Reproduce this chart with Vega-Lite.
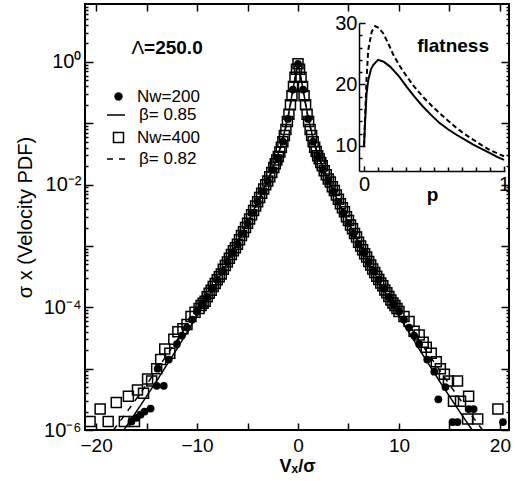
{
"$schema":"https://vega.github.io/schema/vega-lite/v6.json",
"width":424,"height":426,
"autosize":{"type":"none"},
"padding":{"left":85,"top":4,"right":9,"bottom":51},
"background":"white",
"config":{
 "view":{"stroke":"black","strokeWidth":2},
 "font":"Liberation Sans",
 "axis":{"grid":false,"labelFont":"Liberation Sans","titleFont":"Liberation Sans","labelColor":"black","titleColor":"black","tickColor":"black","domainColor":"black","tickWidth":1.5,"domainWidth":1.5,"labelFontSize":20,"labelFlush":false,"labelOverlap":false,"labelFontWeight":"normal"},
 "legend":{"labelFont":"Liberation Sans","labelFontSize":17,"labelColor":"black","padding":0}
},
"datasets":{
 "pts":[
  {"set":"Nw=400","v":-20.6,"pdf":1.38e-6},{"set":"Nw=400","v":-19.6,"pdf":2.19e-6},{"set":"Nw=400","v":-18.8,"pdf":1.38e-6},{"set":"Nw=400","v":-18.0,"pdf":2.82e-6},{"set":"Nw=400","v":-17.2,"pdf":1.38e-6},{"set":"Nw=400","v":-16.8,"pdf":3.55e-6},{"set":"Nw=400","v":-16.2,"pdf":1.38e-6},{"set":"Nw=400","v":-15.9,"pdf":4.47e-6},{"set":"Nw=400","v":-15.3,"pdf":3.98e-6},{"set":"Nw=400","v":-14.9,"pdf":6.76e-6},{"set":"Nw=400","v":-14.5,"pdf":6.31e-6},{"set":"Nw=400","v":-14.0,"pdf":1.0e-5},{"set":"Nw=400","v":-13.6,"pdf":1.41e-5},{"set":"Nw=400","v":-13.2,"pdf":2.09e-5},{"set":"Nw=400","v":-12.7,"pdf":1.78e-5},{"set":"Nw=400","v":-12.3,"pdf":3.02e-5},{"set":"Nw=400","v":-11.9,"pdf":3.98e-5},{"set":"Nw=400","v":-11.4,"pdf":4.47e-5},{"set":"Nw=400","v":-11.0,"pdf":5.25e-5},{"set":"Nw=400","v":-10.6,"pdf":7.08e-5},{"set":"Nw=400","v":-10.2,"pdf":8.3e-5},
  {"set":"Nw=400","v":-9.8,"pdf":9.55e-5},{"set":"Nw=400","v":-9.6,"pdf":1.07e-4},{"set":"Nw=400","v":-9.4,"pdf":1.17e-4},{"set":"Nw=400","v":-9.2,"pdf":1.25e-4},{"set":"Nw=400","v":-9.0,"pdf":1.48e-4},{"set":"Nw=400","v":-8.8,"pdf":1.7e-4},{"set":"Nw=400","v":-8.6,"pdf":1.9e-4},{"set":"Nw=400","v":-8.4,"pdf":2.19e-4},{"set":"Nw=400","v":-8.2,"pdf":2.45e-4},{"set":"Nw=400","v":-8.0,"pdf":2.82e-4},{"set":"Nw=400","v":-7.8,"pdf":3.16e-4},{"set":"Nw=400","v":-7.6,"pdf":3.5e-4},{"set":"Nw=400","v":-7.4,"pdf":4.17e-4},{"set":"Nw=400","v":-7.2,"pdf":4.79e-4},{"set":"Nw=400","v":-7.0,"pdf":5.5e-4},{"set":"Nw=400","v":-6.8,"pdf":6.31e-4},{"set":"Nw=400","v":-6.6,"pdf":7.24e-4},{"set":"Nw=400","v":-6.4,"pdf":8.32e-4},{"set":"Nw=400","v":-6.2,"pdf":9.33e-4},{"set":"Nw=400","v":-6.0,"pdf":1.07e-3},{"set":"Nw=400","v":-5.8,"pdf":1.26e-3},{"set":"Nw=400","v":-5.6,"pdf":1.48e-3},{"set":"Nw=400","v":-5.4,"pdf":1.7e-3},{"set":"Nw=400","v":-5.2,"pdf":2.0e-3},{"set":"Nw=400","v":-5.0,"pdf":2.34e-3},{"set":"Nw=400","v":-4.8,"pdf":2.75e-3},{"set":"Nw=400","v":-4.6,"pdf":3.24e-3},{"set":"Nw=400","v":-4.4,"pdf":3.8e-3},{"set":"Nw=400","v":-4.2,"pdf":4.47e-3},{"set":"Nw=400","v":-4.0,"pdf":5.25e-3},{"set":"Nw=400","v":-3.8,"pdf":6.17e-3},{"set":"Nw=400","v":-3.6,"pdf":7.24e-3},{"set":"Nw=400","v":-3.4,"pdf":8.51e-3},{"set":"Nw=400","v":-3.2,"pdf":0.01},{"set":"Nw=400","v":-3.0,"pdf":0.0115},{"set":"Nw=400","v":-2.8,"pdf":0.0135},{"set":"Nw=400","v":-2.6,"pdf":0.0158},{"set":"Nw=400","v":-2.4,"pdf":0.0191},{"set":"Nw=400","v":-2.25,"pdf":0.0219},{"set":"Nw=400","v":-2.1,"pdf":0.0251},{"set":"Nw=400","v":-1.95,"pdf":0.0288},{"set":"Nw=400","v":-1.8,"pdf":0.0339},{"set":"Nw=400","v":-1.65,"pdf":0.0407},{"set":"Nw=400","v":-1.5,"pdf":0.0501},{"set":"Nw=400","v":-1.35,"pdf":0.0631},{"set":"Nw=400","v":-1.2,"pdf":0.0794},{"set":"Nw=400","v":-1.05,"pdf":0.107},{"set":"Nw=400","v":-0.9,"pdf":0.141},{"set":"Nw=400","v":-0.75,"pdf":0.2},{"set":"Nw=400","v":-0.6,"pdf":0.282},{"set":"Nw=400","v":-0.45,"pdf":0.398},{"set":"Nw=400","v":-0.3,"pdf":0.562},{"set":"Nw=400","v":-0.15,"pdf":0.759},{"set":"Nw=400","v":0,"pdf":0.933},
  {"set":"Nw=400","v":0.15,"pdf":0.759},{"set":"Nw=400","v":0.3,"pdf":0.562},{"set":"Nw=400","v":0.45,"pdf":0.398},{"set":"Nw=400","v":0.6,"pdf":0.282},{"set":"Nw=400","v":0.75,"pdf":0.2},{"set":"Nw=400","v":0.9,"pdf":0.141},{"set":"Nw=400","v":1.05,"pdf":0.107},{"set":"Nw=400","v":1.2,"pdf":0.0794},{"set":"Nw=400","v":1.35,"pdf":0.0631},{"set":"Nw=400","v":1.5,"pdf":0.0501},{"set":"Nw=400","v":1.65,"pdf":0.0407},{"set":"Nw=400","v":1.8,"pdf":0.0347},{"set":"Nw=400","v":1.95,"pdf":0.0295},{"set":"Nw=400","v":2.1,"pdf":0.0263},{"set":"Nw=400","v":2.25,"pdf":0.0229},{"set":"Nw=400","v":2.4,"pdf":0.0204},{"set":"Nw=400","v":2.6,"pdf":0.0168},{"set":"Nw=400","v":2.8,"pdf":0.0145},{"set":"Nw=400","v":3.0,"pdf":0.0123},{"set":"Nw=400","v":3.2,"pdf":0.011},{"set":"Nw=400","v":3.4,"pdf":0.0092},{"set":"Nw=400","v":3.6,"pdf":0.008},{"set":"Nw=400","v":3.8,"pdf":0.0068},{"set":"Nw=400","v":4.0,"pdf":0.0058},{"set":"Nw=400","v":4.2,"pdf":0.0049},{"set":"Nw=400","v":4.4,"pdf":0.0042},{"set":"Nw=400","v":4.6,"pdf":0.0036},{"set":"Nw=400","v":4.8,"pdf":0.003},{"set":"Nw=400","v":5.0,"pdf":0.0026},{"set":"Nw=400","v":5.2,"pdf":0.0022},{"set":"Nw=400","v":5.4,"pdf":0.0019},{"set":"Nw=400","v":5.6,"pdf":0.0016},{"set":"Nw=400","v":5.8,"pdf":0.0014},{"set":"Nw=400","v":6.0,"pdf":0.00115},{"set":"Nw=400","v":6.2,"pdf":0.001},{"set":"Nw=400","v":6.4,"pdf":8.7e-4},{"set":"Nw=400","v":6.6,"pdf":7.5e-4},{"set":"Nw=400","v":6.8,"pdf":6.6e-4},{"set":"Nw=400","v":7.0,"pdf":5.6e-4},{"set":"Nw=400","v":7.2,"pdf":4.9e-4},{"set":"Nw=400","v":7.4,"pdf":4.2e-4},{"set":"Nw=400","v":7.6,"pdf":3.7e-4},{"set":"Nw=400","v":7.8,"pdf":3.2e-4},{"set":"Nw=400","v":8.0,"pdf":2.85e-4},{"set":"Nw=400","v":8.2,"pdf":2.5e-4},{"set":"Nw=400","v":8.4,"pdf":2.25e-4},{"set":"Nw=400","v":8.6,"pdf":1.92e-4},{"set":"Nw=400","v":8.8,"pdf":1.72e-4},{"set":"Nw=400","v":9.0,"pdf":1.5e-4},{"set":"Nw=400","v":9.2,"pdf":1.32e-4},{"set":"Nw=400","v":9.4,"pdf":1.18e-4},{"set":"Nw=400","v":9.6,"pdf":1.07e-4},{"set":"Nw=400","v":9.8,"pdf":9.6e-5},
  {"set":"Nw=400","v":10.0,"pdf":8.51e-5},{"set":"Nw=400","v":10.5,"pdf":7.08e-5},{"set":"Nw=400","v":11.0,"pdf":5.89e-5},{"set":"Nw=400","v":11.5,"pdf":4.07e-5},{"set":"Nw=400","v":12.0,"pdf":3.55e-5},{"set":"Nw=400","v":12.4,"pdf":2.69e-5},{"set":"Nw=400","v":12.7,"pdf":2.24e-5},{"set":"Nw=400","v":13.2,"pdf":1.78e-5},{"set":"Nw=400","v":13.7,"pdf":1.29e-5},{"set":"Nw=400","v":14.1,"pdf":1.0e-5},{"set":"Nw=400","v":14.5,"pdf":8.13e-6},{"set":"Nw=400","v":14.9,"pdf":6.31e-6},{"set":"Nw=400","v":15.4,"pdf":2.95e-6},{"set":"Nw=400","v":15.8,"pdf":6.31e-6},{"set":"Nw=400","v":16.1,"pdf":2.95e-6},{"set":"Nw=400","v":16.8,"pdf":1.51e-6},{"set":"Nw=400","v":16.9,"pdf":3.55e-6},{"set":"Nw=400","v":17.8,"pdf":1.51e-6},{"set":"Nw=400","v":19.8,"pdf":2.19e-6},
  {"set":"Nw=200","v":-16.5,"pdf":1.38e-6},{"set":"Nw=200","v":-16.0,"pdf":1.58e-6},{"set":"Nw=200","v":-15.6,"pdf":1.78e-6},{"set":"Nw=200","v":-15.2,"pdf":2.0e-6},{"set":"Nw=200","v":-14.6,"pdf":2.24e-6},{"set":"Nw=200","v":-14.0,"pdf":5.25e-6},{"set":"Nw=200","v":-13.9,"pdf":1.0e-5},{"set":"Nw=200","v":-13.3,"pdf":5.25e-6},{"set":"Nw=200","v":-12.8,"pdf":1.41e-5},{"set":"Nw=200","v":-12.0,"pdf":2.51e-5},
  {"set":"Nw=200","v":-11.5,"pdf":3.47e-5},{"set":"Nw=200","v":-11.0,"pdf":4.68e-5},{"set":"Nw=200","v":-10.5,"pdf":6.31e-5},{"set":"Nw=200","v":-10.0,"pdf":8.51e-5},{"set":"Nw=200","v":-9.5,"pdf":1.12e-4},{"set":"Nw=200","v":-9.0,"pdf":1.48e-4},{"set":"Nw=200","v":-8.5,"pdf":2.04e-4},{"set":"Nw=200","v":-8.0,"pdf":2.82e-4},{"set":"Nw=200","v":-7.5,"pdf":3.89e-4},{"set":"Nw=200","v":-7.0,"pdf":5.5e-4},{"set":"Nw=200","v":-6.5,"pdf":7.76e-4},{"set":"Nw=200","v":-6.0,"pdf":1.07e-3},{"set":"Nw=200","v":-5.5,"pdf":1.585e-3},{"set":"Nw=200","v":-5.0,"pdf":2.34e-3},{"set":"Nw=200","v":-4.5,"pdf":3.47e-3},{"set":"Nw=200","v":-4.0,"pdf":5.25e-3},{"set":"Nw=200","v":-3.5,"pdf":7.76e-3},{"set":"Nw=200","v":-3.0,"pdf":0.0115},{"set":"Nw=200","v":-2.5,"pdf":0.0174},{"set":"Nw=200","v":-2.0,"pdf":0.0275},{"set":"Nw=200","v":-1.5,"pdf":0.0501},{"set":"Nw=200","v":-1.0,"pdf":0.1175},{"set":"Nw=200","v":-0.5,"pdf":0.355},{"set":"Nw=200","v":0,"pdf":0.933},
  {"set":"Nw=200","v":0.5,"pdf":0.355},{"set":"Nw=200","v":1.0,"pdf":0.1175},{"set":"Nw=200","v":1.5,"pdf":0.0501},{"set":"Nw=200","v":2.0,"pdf":0.0275},{"set":"Nw=200","v":2.5,"pdf":0.0174},{"set":"Nw=200","v":3.0,"pdf":0.0115},{"set":"Nw=200","v":3.5,"pdf":7.76e-3},{"set":"Nw=200","v":4.0,"pdf":5.25e-3},{"set":"Nw=200","v":4.5,"pdf":3.47e-3},{"set":"Nw=200","v":5.0,"pdf":2.34e-3},{"set":"Nw=200","v":5.5,"pdf":1.585e-3},{"set":"Nw=200","v":6.0,"pdf":1.07e-3},{"set":"Nw=200","v":6.5,"pdf":7.76e-4},{"set":"Nw=200","v":7.0,"pdf":5.5e-4},{"set":"Nw=200","v":7.5,"pdf":3.89e-4},{"set":"Nw=200","v":8.0,"pdf":2.82e-4},{"set":"Nw=200","v":8.5,"pdf":2.04e-4},{"set":"Nw=200","v":9.0,"pdf":1.48e-4},{"set":"Nw=200","v":9.5,"pdf":1.12e-4},{"set":"Nw=200","v":10.0,"pdf":8.51e-5},{"set":"Nw=200","v":10.5,"pdf":6.31e-5},{"set":"Nw=200","v":11.0,"pdf":4.68e-5},{"set":"Nw=200","v":11.5,"pdf":3.47e-5},
  {"set":"Nw=200","v":12.0,"pdf":2.51e-5},{"set":"Nw=200","v":12.8,"pdf":1.41e-5},{"set":"Nw=200","v":13.5,"pdf":8.91e-6},{"set":"Nw=200","v":13.9,"pdf":3.16e-6},{"set":"Nw=200","v":14.6,"pdf":5.01e-6},{"set":"Nw=200","v":15.3,"pdf":1.35e-6},{"set":"Nw=200","v":15.8,"pdf":1.35e-6},{"set":"Nw=200","v":16.9,"pdf":2.19e-6},{"set":"Nw=200","v":17.4,"pdf":2.19e-6},{"set":"Nw=200","v":20.3,"pdf":1.35e-6}
 ],
 "fit":[
  {"set":"β= 0.85","v":-18,"pdf":6.61e-7},{"set":"β= 0.85","v":-17,"pdf":1.15e-6},{"set":"β= 0.85","v":-16,"pdf":2.0e-6},{"set":"β= 0.85","v":-15,"pdf":3.55e-6},{"set":"β= 0.85","v":-14,"pdf":6.31e-6},{"set":"β= 0.85","v":-13,"pdf":1.15e-5},{"set":"β= 0.85","v":-12,"pdf":2.09e-5},{"set":"β= 0.85","v":-11,"pdf":3.89e-5},{"set":"β= 0.85","v":-10,"pdf":7.24e-5},{"set":"β= 0.85","v":-9,"pdf":1.38e-4},{"set":"β= 0.85","v":-8,"pdf":2.69e-4},{"set":"β= 0.85","v":-7,"pdf":5.37e-4},{"set":"β= 0.85","v":-6,"pdf":1.1e-3},{"set":"β= 0.85","v":-5,"pdf":2.4e-3},{"set":"β= 0.85","v":-4,"pdf":5.25e-3},{"set":"β= 0.85","v":-3,"pdf":0.01175},{"set":"β= 0.85","v":-2,"pdf":0.0302},{"set":"β= 0.85","v":-1.5,"pdf":0.0562},{"set":"β= 0.85","v":-1,"pdf":0.126},{"set":"β= 0.85","v":-0.5,"pdf":0.355},{"set":"β= 0.85","v":0,"pdf":1.0},{"set":"β= 0.85","v":0.5,"pdf":0.355},{"set":"β= 0.85","v":1,"pdf":0.126},{"set":"β= 0.85","v":1.5,"pdf":0.0562},{"set":"β= 0.85","v":2,"pdf":0.0302},{"set":"β= 0.85","v":3,"pdf":0.01175},{"set":"β= 0.85","v":4,"pdf":5.25e-3},{"set":"β= 0.85","v":5,"pdf":2.4e-3},{"set":"β= 0.85","v":6,"pdf":1.1e-3},{"set":"β= 0.85","v":7,"pdf":5.37e-4},{"set":"β= 0.85","v":8,"pdf":2.69e-4},{"set":"β= 0.85","v":9,"pdf":1.38e-4},{"set":"β= 0.85","v":10,"pdf":7.24e-5},{"set":"β= 0.85","v":11,"pdf":3.89e-5},{"set":"β= 0.85","v":12,"pdf":2.09e-5},{"set":"β= 0.85","v":13,"pdf":1.15e-5},{"set":"β= 0.85","v":14,"pdf":6.31e-6},{"set":"β= 0.85","v":15,"pdf":3.55e-6},{"set":"β= 0.85","v":16,"pdf":2.0e-6},{"set":"β= 0.85","v":17,"pdf":1.15e-6},{"set":"β= 0.85","v":18,"pdf":6.61e-7},
  {"set":"β= 0.82","v":-19,"pdf":6.92e-7},{"set":"β= 0.82","v":-18,"pdf":1.15e-6},{"set":"β= 0.82","v":-17,"pdf":1.91e-6},{"set":"β= 0.82","v":-16,"pdf":3.24e-6},{"set":"β= 0.82","v":-15,"pdf":5.5e-6},{"set":"β= 0.82","v":-14,"pdf":9.55e-6},{"set":"β= 0.82","v":-13,"pdf":1.66e-5},{"set":"β= 0.82","v":-12,"pdf":2.88e-5},{"set":"β= 0.82","v":-11,"pdf":5.13e-5},{"set":"β= 0.82","v":-10,"pdf":9.33e-5},{"set":"β= 0.82","v":-9,"pdf":1.7e-4},{"set":"β= 0.82","v":-8,"pdf":3.16e-4},{"set":"β= 0.82","v":-7,"pdf":6.03e-4},{"set":"β= 0.82","v":-6,"pdf":1.175e-3},{"set":"β= 0.82","v":-5,"pdf":2.4e-3},{"set":"β= 0.82","v":-4,"pdf":5.01e-3},{"set":"β= 0.82","v":-3,"pdf":0.01122},{"set":"β= 0.82","v":-2,"pdf":0.0288},{"set":"β= 0.82","v":-1.5,"pdf":0.0537},{"set":"β= 0.82","v":-1,"pdf":0.12},{"set":"β= 0.82","v":-0.5,"pdf":0.339},{"set":"β= 0.82","v":0,"pdf":1.0},{"set":"β= 0.82","v":0.5,"pdf":0.339},{"set":"β= 0.82","v":1,"pdf":0.12},{"set":"β= 0.82","v":1.5,"pdf":0.0537},{"set":"β= 0.82","v":2,"pdf":0.0288},{"set":"β= 0.82","v":3,"pdf":0.01122},{"set":"β= 0.82","v":4,"pdf":5.01e-3},{"set":"β= 0.82","v":5,"pdf":2.4e-3},{"set":"β= 0.82","v":6,"pdf":1.175e-3},{"set":"β= 0.82","v":7,"pdf":6.03e-4},{"set":"β= 0.82","v":8,"pdf":3.16e-4},{"set":"β= 0.82","v":9,"pdf":1.7e-4},{"set":"β= 0.82","v":10,"pdf":9.33e-5},{"set":"β= 0.82","v":11,"pdf":5.13e-5},{"set":"β= 0.82","v":12,"pdf":2.88e-5},{"set":"β= 0.82","v":13,"pdf":1.66e-5},{"set":"β= 0.82","v":14,"pdf":9.55e-6},{"set":"β= 0.82","v":15,"pdf":5.5e-6},{"set":"β= 0.82","v":16,"pdf":3.24e-6},{"set":"β= 0.82","v":17,"pdf":1.91e-6},{"set":"β= 0.82","v":18,"pdf":1.15e-6},{"set":"β= 0.82","v":19,"pdf":6.92e-7}
 ],
 "flat":[
  {"curve":"β= 0.85","p":0,"flat":10},{"curve":"β= 0.85","p":0.008,"flat":14},{"curve":"β= 0.85","p":0.018,"flat":18.5},{"curve":"β= 0.85","p":0.03,"flat":20.7},{"curve":"β= 0.85","p":0.05,"flat":22.5},{"curve":"β= 0.85","p":0.067,"flat":23.2},{"curve":"β= 0.85","p":0.1,"flat":24.0},{"curve":"β= 0.85","p":0.14,"flat":23.7},{"curve":"β= 0.85","p":0.186,"flat":22.9},{"curve":"β= 0.85","p":0.25,"flat":21.3},{"curve":"β= 0.85","p":0.305,"flat":19.6},{"curve":"β= 0.85","p":0.36,"flat":18.0},{"curve":"β= 0.85","p":0.42,"flat":16.4},{"curve":"β= 0.85","p":0.48,"flat":15.0},{"curve":"β= 0.85","p":0.54,"flat":13.7},{"curve":"β= 0.85","p":0.6,"flat":12.7},{"curve":"β= 0.85","p":0.66,"flat":11.8},{"curve":"β= 0.85","p":0.72,"flat":11.0},{"curve":"β= 0.85","p":0.78,"flat":10.2},{"curve":"β= 0.85","p":0.84,"flat":9.5},{"curve":"β= 0.85","p":0.9,"flat":8.8},{"curve":"β= 0.85","p":0.95,"flat":8.2},{"curve":"β= 0.85","p":1.0,"flat":7.7},
  {"curve":"β= 0.82","p":0,"flat":10},{"curve":"β= 0.82","p":0.008,"flat":15},{"curve":"β= 0.82","p":0.018,"flat":21},{"curve":"β= 0.82","p":0.03,"flat":25.6},{"curve":"β= 0.82","p":0.055,"flat":28.6},{"curve":"β= 0.82","p":0.08,"flat":29.5},{"curve":"β= 0.82","p":0.105,"flat":29.2},{"curve":"β= 0.82","p":0.138,"flat":28.3},{"curve":"β= 0.82","p":0.17,"flat":26.8},{"curve":"β= 0.82","p":0.21,"flat":24.8},{"curve":"β= 0.82","p":0.255,"flat":23.0},{"curve":"β= 0.82","p":0.305,"flat":21.3},{"curve":"β= 0.82","p":0.36,"flat":19.6},{"curve":"β= 0.82","p":0.42,"flat":18.0},{"curve":"β= 0.82","p":0.48,"flat":16.6},{"curve":"β= 0.82","p":0.54,"flat":15.3},{"curve":"β= 0.82","p":0.6,"flat":14.1},{"curve":"β= 0.82","p":0.66,"flat":12.9},{"curve":"β= 0.82","p":0.72,"flat":11.9},{"curve":"β= 0.82","p":0.78,"flat":11.0},{"curve":"β= 0.82","p":0.84,"flat":10.1},{"curve":"β= 0.82","p":0.9,"flat":9.3},{"curve":"β= 0.82","p":0.95,"flat":8.8},{"curve":"β= 0.82","p":1.0,"flat":8.3}
 ]
},
"layer":[
 {
  "layer":[
   {
    "data":{"name":"pts"},
    "transform":[{"filter":"datum.set === 'Nw=200'"}],
    "mark":{"type":"point","filled":true,"color":"black","size":60,"opacity":1,"clip":true},
    "encoding":{
     "x":{"field":"v","type":"quantitative","scale":{"domain":[-21.1,20.9],"nice":false,"zero":false},
          "axis":{"orient":"top","values":[-20,-15,-10,-5,0,5,10,15,20],"labels":false,"tickSize":-7,"domain":false,"title":null}},
     "y":{"field":"pdf","type":"quantitative","scale":{"type":"log","domain":[1e-6,8.8],"nice":false},
          "axis":{"orient":"left","values":[2e-6,3e-6,4e-6,5e-6,6e-6,7e-6,8e-6,9e-6,2e-5,3e-5,4e-5,5e-5,6e-5,7e-5,8e-5,9e-5,2e-4,3e-4,4e-4,5e-4,6e-4,7e-4,8e-4,9e-4,0.002,0.003,0.004,0.005,0.006,0.007,0.008,0.009,0.02,0.03,0.04,0.05,0.06,0.07,0.08,0.09,0.2,0.3,0.4,0.5,0.6,0.7,0.8,0.9,2,3,4,5,6,7,8],"labels":false,"tickSize":-3,"domain":false,"title":null}},
     "shape":{"field":"set","type":"nominal","scale":{"range":["circle"]},
          "legend":{"orient":"none","legendX":25,"legendY":84,"title":null,"symbolSize":70,"symbolFillColor":"black","symbolStrokeColor":"black","symbolStrokeWidth":0,"labelOffset":10}}
    }
   },
   {
    "data":{"name":"fit"},
    "transform":[{"filter":"datum.set === 'β= 0.85'"}],
    "mark":{"type":"line","color":"black","strokeWidth":1.5,"clip":true},
    "encoding":{
     "x":{"field":"v","type":"quantitative","scale":{"domain":[-21.1,20.9],"nice":false,"zero":false},"axis":null},
     "y":{"field":"pdf","type":"quantitative","scale":{"type":"log","domain":[1e-6,8.8],"nice":false},
          "axis":{"orient":"right","values":[1e-6,1e-5,1e-4,1e-3,0.01,0.1,1],"labels":false,"tickSize":-8,"domain":false,"title":null}},
     "strokeDash":{"field":"set","type":"nominal","scale":{"range":[[1,0]]},
          "legend":{"orient":"none","legendX":21,"legendY":101,"title":null,"symbolType":"stroke","symbolSize":324,"symbolStrokeColor":"black","symbolStrokeWidth":1.5,"labelOffset":13}}
    }
   },
   {
    "data":{"name":"fit"},
    "transform":[{"filter":"datum.set === 'β= 0.82'"}],
    "mark":{"type":"line","color":"black","strokeWidth":1.5,"clip":true},
    "encoding":{
     "x":{"field":"v","type":"quantitative","scale":{"domain":[-21.1,20.9],"nice":false,"zero":false},"axis":null},
     "y":{"field":"pdf","type":"quantitative","scale":{"type":"log","domain":[1e-6,8.8],"nice":false},
          "axis":{"orient":"right","values":[2e-6,3e-6,4e-6,5e-6,6e-6,7e-6,8e-6,9e-6,2e-5,3e-5,4e-5,5e-5,6e-5,7e-5,8e-5,9e-5,2e-4,3e-4,4e-4,5e-4,6e-4,7e-4,8e-4,9e-4,0.002,0.003,0.004,0.005,0.006,0.007,0.008,0.009,0.02,0.03,0.04,0.05,0.06,0.07,0.08,0.09,0.2,0.3,0.4,0.5,0.6,0.7,0.8,0.9,2,3,4,5,6,7,8],"labels":false,"tickSize":-3,"domain":false,"title":null}},
     "strokeDash":{"field":"set","type":"nominal","scale":{"range":[[6,6]]},
          "legend":{"orient":"none","legendX":21,"legendY":145,"title":null,"symbolType":"stroke","symbolSize":324,"symbolStrokeColor":"black","symbolStrokeWidth":1.5,"labelOffset":13}}
    }
   },
   {
    "data":{"name":"pts"},
    "transform":[{"filter":"datum.set === 'Nw=400'"}],
    "mark":{"type":"point","filled":false,"color":"black","strokeWidth":1.5,"size":100,"opacity":1,"clip":true},
    "encoding":{
     "x":{"field":"v","type":"quantitative","scale":{"domain":[-21.1,20.9],"nice":false,"zero":false},
          "axis":{"orient":"bottom","values":[-20,-15,-10,-5,0,5,10,15,20],"labelExpr":"datum.value % 10 === 0 ? datum.label : ''","tickSize":-7,"labelPadding":13,"labelFontSize":19,"domain":false,"title":"Vₓ/σ","titleFontSize":18,"titleFontWeight":"bold","titlePadding":2}},
     "y":{"field":"pdf","type":"quantitative","scale":{"type":"log","domain":[1e-6,8.8],"nice":false},
          "axis":{"orient":"left","values":[1e-6,1e-5,1e-4,1e-3,0.01,0.1,1],"labelExpr":"datum.value === 1 ? '10⁰' : datum.value === 0.01 ? '10⁻²' : datum.value === 0.0001 ? '10⁻⁴' : datum.value === 0.000001 ? '10⁻⁶' : ''","tickSize":-8,"labelPadding":12,"domain":false,"title":"σ x (Velocity PDF)","titleFontSize":20,"titleFontWeight":"normal","titlePadding":8}},
     "shape":{"field":"set","type":"nominal","scale":{"range":["square"]},
          "legend":{"orient":"none","legendX":25,"legendY":125,"title":null,"symbolSize":100,"symbolFillColor":"white","symbolStrokeColor":"black","symbolStrokeWidth":1.5,"labelOffset":10}}
    }
   },
   {
    "data":{"values":[{}]},
    "mark":{"type":"text","text":"Λ","font":"Liberation Sans","fontSize":19,"align":"left","baseline":"middle","color":"black"},
    "encoding":{
     "x":{"datum":-16.5,"type":"quantitative","scale":{"domain":[-21.1,20.9],"nice":false,"zero":false},"axis":null},
     "y":{"datum":1.69,"type":"quantitative","scale":{"type":"log","domain":[1e-6,8.8],"nice":false},"axis":null}
    }
   },
   {
    "data":{"values":[{}]},
    "mark":{"type":"text","text":"=250.0","font":"Liberation Sans","fontSize":19,"fontWeight":"bold","align":"left","baseline":"middle","color":"black"},
    "encoding":{
     "x":{"datum":-15.25,"type":"quantitative","scale":{"domain":[-21.1,20.9],"nice":false,"zero":false},"axis":null},
     "y":{"datum":1.69,"type":"quantitative","scale":{"type":"log","domain":[1e-6,8.8],"nice":false},"axis":null}
    }
   }
  ],
  "resolve":{"scale":{"shape":"independent","strokeDash":"independent"},"legend":{"shape":"independent","strokeDash":"independent"},"axis":{"x":"independent","y":"independent"}}
 },
 {
  "layer":[
   {
    "data":{"name":"flat"},
    "transform":[{"filter":"datum.curve === 'β= 0.85'"}],
    "mark":{"type":"line","color":"black","strokeWidth":2},
    "encoding":{
     "x":{"field":"p","type":"quantitative","scale":{"domain":[-0.036,1.007],"range":[274,420],"nice":false,"zero":false},
          "axis":{"orient":"bottom","offset":-259,"values":[0,1],"format":"d","tickSize":-5,"labelPadding":8,"domain":true,"title":"p","titleFontSize":19,"titleFontWeight":"bold","titlePadding":-9}},
     "y":{"field":"flat","type":"quantitative","scale":{"domain":[5.9,30],"range":[167,19],"nice":false,"zero":false},
          "axis":{"orient":"left","offset":-274,"values":[10,20,30],"format":"d","tickSize":-6,"labelPadding":8,"domain":true,"title":null}}
    }
   },
   {
    "data":{"name":"flat"},
    "transform":[{"filter":"datum.curve === 'β= 0.82'"}],
    "mark":{"type":"line","color":"black","strokeWidth":2,"strokeDash":[5,3]},
    "encoding":{
     "x":{"field":"p","type":"quantitative","scale":{"domain":[-0.036,1.007],"range":[274,420],"nice":false,"zero":false},
          "axis":{"orient":"bottom","offset":-259,"values":[0.1,0.2,0.3,0.4,0.5,0.6,0.7,0.8,0.9],"labels":false,"tickSize":-4,"domain":false,"title":null}},
     "y":{"field":"flat","type":"quantitative","scale":{"domain":[5.9,30],"range":[167,19],"nice":false,"zero":false},
          "axis":{"orient":"left","offset":-274,"values":[8,12,14,16,18,22,24,26,28],"labels":false,"tickSize":-3,"domain":false,"title":null}}
    }
   },
   {
    "data":{"values":[{}]},
    "mark":{"type":"text","text":"flatness","font":"Liberation Sans","fontSize":19,"fontWeight":"bold","align":"center","baseline":"middle","color":"black"},
    "encoding":{
     "x":{"datum":0.636,"type":"quantitative","scale":{"domain":[-0.036,1.007],"range":[274,420],"nice":false,"zero":false},"axis":null},
     "y":{"datum":26.3,"type":"quantitative","scale":{"domain":[5.9,30],"range":[167,19],"nice":false,"zero":false},"axis":null}
    }
   }
  ],
  "resolve":{"axis":{"x":"independent","y":"independent"}}
 }
],
"resolve":{"scale":{"x":"independent","y":"independent"},"axis":{"x":"independent","y":"independent"}}
}
